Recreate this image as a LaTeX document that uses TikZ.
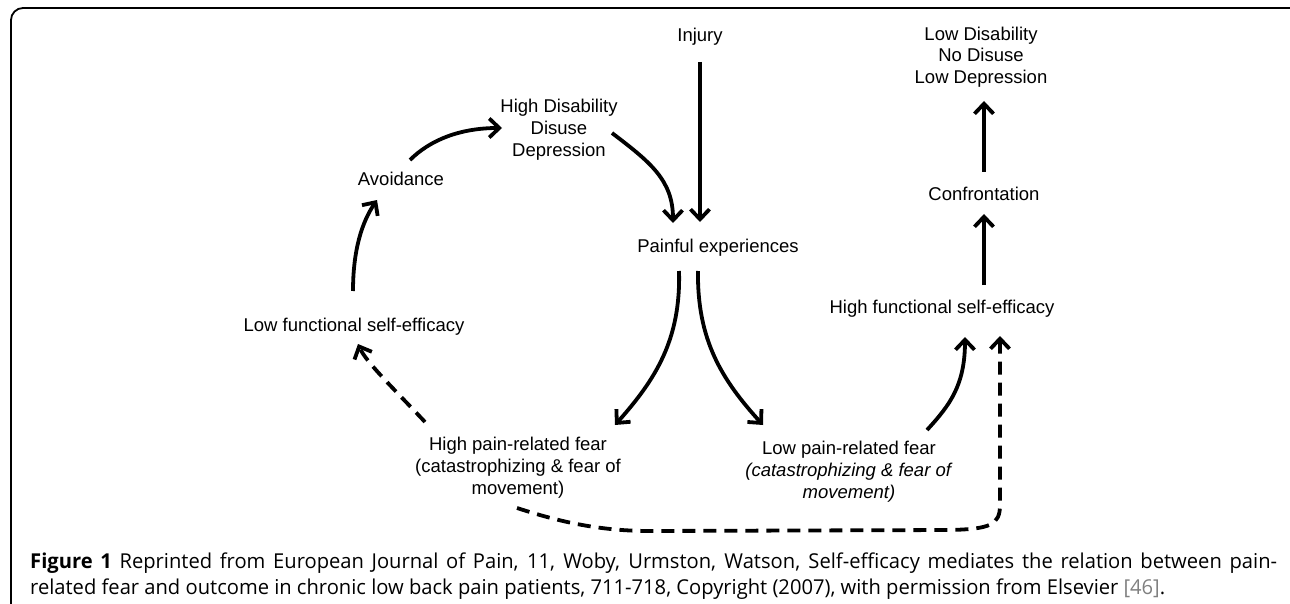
\documentclass[tikz,border=0pt]{standalone}
\usepackage{fontspec}
\setmainfont{Liberation Sans}
\newfontfamily\capfont{Open Sans}
\usepackage{graphicx}
\usetikzlibrary{arrows.meta,calc}
\newsavebox\capboxtwo
\newlength\captwow
\tikzset{
  lbl/.style={inner sep=0pt, align=center, font=\fontsize{18.5}{22}\selectfont},
  arr/.style={line width=3.8pt, -{Straight Barb[length=10pt,width=19pt]}},
  darr/.style={arr, dash pattern=on 13pt off 8pt},
  frame/.style={line width=1.8pt, rounded corners=12pt},
  capline/.style={anchor=base west, inner sep=0pt},
}
\begin{document}
\sbox\capboxtwo{\capfont\fontsize{20.5}{24}\selectfont related fear and outcome in chronic low back pain patients, 711-718, Copyright (2007), with permission from Elsevier {\color{black!50}[46]}.}%
\setlength\captwow{\wd\capboxtwo}%
\pgfmathsetmacro\capfac{1135pt/\captwow}%
\pgfmathsetlengthmacro\capone{1247/\capfac}%
\begin{tikzpicture}[x=1pt,y=-1pt]
\useasboundingbox (0,0) rectangle (1290,604);
\begin{scope}
  \clip (0,0) rectangle (1290,604);
  \draw[frame] (11,8) rectangle (1302,640);
\end{scope}

% nodes
\node[lbl] (inj) at (700,37) {Injury};
\node[lbl, font=\fontsize{18.5}{21.7}\selectfont] (lowdis) at (981,57) {Low Disability\\No Disuse\\Low Depression};
\node[lbl] (hdd) at (559,130) {High Disability\\Disuse\\Depression};
\node[lbl] (avoid) at (401,179) {Avoidance};
\node[lbl] (pain) at (718,248) {Painful experiences};
\node[lbl] (conf) at (984,194) {Confrontation};
\node[lbl] (hfse) at (942,309) {High functional self-efficacy};
\node[lbl] (lfse) at (354,327) {Low functional self-efficacy};
\node[lbl] (hpf) at (518,468) {High pain-related fear\\(catastrophizing \& fear of\\movement)};
\node[lbl] (lpf) at (849,472) {Low pain-related fear\\\textit{(catastrophizing \& fear of}\\\textit{movement)}};

% connectors
\draw[arr] ($(inj)+(0,25)$) -- ($(pain)+(-18,-26)$);
\draw[arr] ($(hdd)+(53,3)$) .. controls +(38,29) and +(0,-43) .. ($(pain)+(-45,-25)$);
\draw[arr] ($(avoid)+(9,-19)$) .. controls +(20,-20) and +(-42,0) .. ($(hdd)+(-57,-2)$);
\draw[arr] ($(lfse)+(-1,-36)$) .. controls +(0,-41) and +(-15,22) .. ($(avoid)+(-24,21)$);
\draw[arr] ($(pain)+(-39,23)$) .. controls +(2,69) and +(40,-45) .. ($(hpf)+(97,-43)$);
\draw[arr] ($(pain)+(-20,23)$) .. controls +(-1,69) and +(-41,-45) .. ($(lpf)+(-86,-47)$);
\draw[arr] ($(lpf)+(78,-42)$) .. controls +(23,-25) and +(0,48) .. ($(hfse)+(23,28)$);
\draw[arr] ($(hfse)+(42,-24)$) -- ($(conf)+(0,20)$);
\draw[arr] ($(conf)+(0,-22)$) -- ($(lowdis)+(3,44)$);
\draw[darr] ($(hpf)+(-93,-46)$) .. controls +(-30,-32) and +(8,18) .. ($(lfse)+(4,17)$);
\draw[darr] ($(hpf)+(-1,40)$) .. controls (560,522) and (600,531) .. (650,531)
   -- (950,530) .. controls (990,529) and (1000,525) .. (1000,505) -- ($(hfse)+(58,27)$);

% caption
\node[capline] (cap1) at (30,568) {\scalebox{\capfac}[1]{\makebox[\capone][s]{\capfont\fontsize{20.5}{24}\selectfont\textbf{Figure 1} Reprinted from European Journal of Pain, 11, Woby, Urmston, Watson, Self-efficacy mediates the relation between pain-}}};
\node[capline] (cap2) at (30,594) {\scalebox{\capfac}[1]{\usebox\capboxtwo}};
\end{tikzpicture}
\end{document}
